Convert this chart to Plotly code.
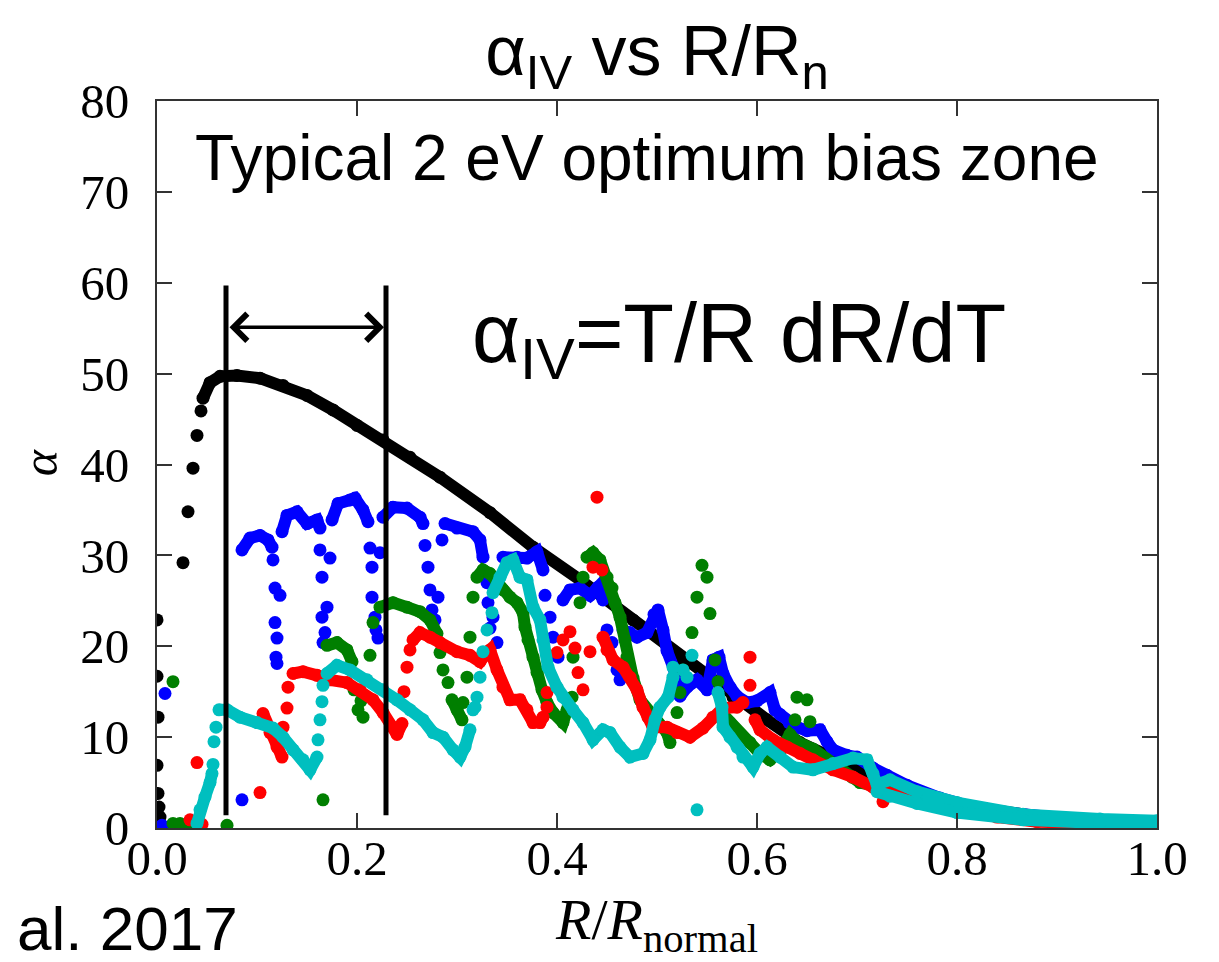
import plotly.graph_objects as go

# ---------------- data ----------------
# Each series: dense runs (drawn as continuous bead chains) and isolated dots.
black_runs = [
    [(0.046, 47.3), (0.053, 49.0), (0.063, 49.7), (0.080, 49.8), (0.103, 49.5), (0.126, 48.7),
     (0.150, 47.6), (0.176, 46.0), (0.200, 44.3), (0.226, 42.7), (0.253, 40.8), (0.283, 38.6),
     (0.333, 34.7), (0.376, 30.9), (0.423, 27.3), (0.476, 22.9), (0.526, 18.5), (0.576, 14.4),
     (0.610, 11.9), (0.643, 9.4), (0.673, 7.8), (0.700, 6.2), (0.720, 5.2), (0.750, 3.9),
     (0.800, 2.5), (0.850, 1.6), (0.900, 1.0), (0.950, 0.7), (1.000, 0.5)],
]
black_dots = [(0.000, 22.9), (0.000, 16.7), (0.001, 12.2), (0.000, 6.9), (0.001, 3.8), (0.002, 2.3),
              (0.003, 1.2), (0.003, 0.5), (0.026, 29.2), (0.031, 34.8), (0.036, 39.6), (0.040, 43.2),
              (0.044, 45.9)]

blue_runs = [
    [(0.085, 30.6), (0.093, 31.9), (0.103, 32.2), (0.111, 31.7), (0.115, 30.9)],
    [(0.125, 32.6), (0.130, 34.4), (0.140, 34.8), (0.150, 33.5), (0.160, 33.9), (0.163, 33.0)],
    [(0.175, 33.9), (0.181, 35.7), (0.193, 36.1), (0.198, 36.3), (0.206, 35.0), (0.211, 33.7)],
    [(0.226, 34.2), (0.236, 35.3), (0.250, 35.2), (0.263, 34.2), (0.266, 33.5)],
    [(0.288, 33.5), (0.300, 33.0), (0.316, 32.6), (0.323, 31.7), (0.326, 29.8)],
    [(0.346, 29.8), (0.360, 29.8), (0.370, 29.7), (0.380, 30.4), (0.386, 28.4)],
    [(0.406, 25.1), (0.413, 26.2), (0.423, 26.4), (0.433, 25.6), (0.441, 26.5), (0.446, 25.1)],
    [(0.466, 21.8), (0.473, 21.5), (0.480, 21.0), (0.490, 21.5), (0.497, 23.5), (0.501, 24.0),
     (0.506, 21.8), (0.510, 19.5), (0.517, 17.5), (0.523, 14.5), (0.530, 15.5), (0.540, 16.3),
     (0.550, 15.2), (0.556, 18.5), (0.562, 18.8), (0.566, 17.0), (0.573, 15.5), (0.580, 14.5),
     (0.590, 13.8), (0.600, 14.0), (0.613, 14.9), (0.618, 13.0), (0.623, 12.5), (0.632, 11.6),
     (0.640, 11.1), (0.650, 10.7), (0.663, 10.8), (0.670, 9.5), (0.676, 8.6), (0.690, 8.0),
     (0.700, 7.8), (0.716, 6.6), (0.730, 5.8), (0.750, 4.7), (0.783, 3.3), (0.816, 2.3),
     (0.850, 1.7), (0.883, 1.2), (0.920, 0.9), (0.960, 0.7), (1.000, 0.6)],
]
blue_dots = [(0.008, 14.8), (0.005, 0.3), (0.014, 0.2), (0.085, 3.1),
             (0.116, 29.5), (0.118, 26.4), (0.123, 25.6), (0.118, 22.6), (0.120, 20.9), (0.119, 18.8), (0.120, 18.1),
             (0.163, 30.6), (0.173, 29.7), (0.165, 27.6), (0.170, 24.3), (0.165, 23.2), (0.168, 21.5), (0.166, 20.4),
             (0.213, 30.8), (0.215, 28.7), (0.215, 25.4), (0.218, 23.2), (0.221, 20.9), (0.223, 30.3), (0.219, 21.8),
             (0.268, 31.1), (0.271, 28.7), (0.273, 26.2), (0.281, 25.4), (0.275, 24.0), (0.278, 22.9), (0.285, 31.7),
             (0.330, 27.0), (0.331, 24.8), (0.336, 23.2), (0.340, 20.4), (0.333, 22.0),
             (0.388, 25.6), (0.393, 23.2), (0.396, 21.0), (0.401, 18.8),
             (0.450, 21.8), (0.455, 20.4), (0.460, 17.4), (0.463, 16.3)]

green_runs = [
    [(0.170, 20.1), (0.180, 20.4), (0.190, 19.6), (0.195, 18.3)],
    [(0.223, 24.3), (0.236, 24.8), (0.250, 24.3), (0.263, 23.8), (0.273, 22.9), (0.280, 21.4)],
    [(0.295, 14.1), (0.300, 13.0), (0.305, 11.9)],
    [(0.320, 27.6), (0.326, 28.4), (0.333, 28.0), (0.340, 27.0), (0.346, 26.2), (0.353, 25.4),
     (0.360, 24.8), (0.366, 23.7), (0.368, 22.1), (0.371, 20.7), (0.376, 18.8), (0.380, 17.1),
     (0.385, 15.2), (0.390, 13.8), (0.396, 12.7), (0.406, 11.6), (0.410, 13.0)],
    [(0.430, 29.8), (0.436, 30.3), (0.443, 29.5), (0.450, 27.6), (0.455, 26.4), (0.458, 24.8),
     (0.463, 23.2), (0.468, 20.7), (0.470, 18.8), (0.476, 16.5), (0.483, 14.1), (0.493, 12.7),
     (0.500, 11.6), (0.510, 10.5), (0.513, 9.4)],
    [(0.566, 12.5), (0.573, 11.6), (0.583, 10.3), (0.593, 9.4), (0.603, 8.2), (0.613, 7.5),
     (0.623, 8.5), (0.633, 10.3), (0.640, 9.5), (0.656, 8.7), (0.670, 7.5), (0.683, 6.6),
     (0.695, 5.6), (0.703, 5.0), (0.720, 4.6), (0.750, 3.5), (0.800, 2.2), (0.850, 1.4),
     (0.900, 0.9), (0.950, 0.6), (1.000, 0.4)],
]
green_dots = [(0.016, 16.1), (0.016, 0.5), (0.023, 0.5), (0.030, 0.3), (0.070, 0.3), (0.166, 3.1),
              (0.197, 15.2), (0.201, 13.0), (0.206, 12.2), (0.204, 14.0), (0.213, 19.0), (0.216, 22.6),
              (0.283, 19.3), (0.286, 17.4), (0.291, 16.0), (0.306, 13.8), (0.310, 16.6), (0.313, 21.0), (0.316, 25.4),
              (0.415, 14.4), (0.416, 18.8), (0.423, 24.8), (0.426, 27.6),
              (0.520, 12.7), (0.523, 14.9), (0.526, 17.4), (0.535, 21.5), (0.540, 25.4), (0.545, 28.9),
              (0.550, 27.6), (0.553, 23.6), (0.558, 18.5), (0.561, 16.1),
              (0.640, 14.4), (0.650, 14.1), (0.638, 11.9), (0.653, 11.7)]

red_runs = [
    [(0.106, 12.6), (0.113, 10.5), (0.120, 8.9), (0.125, 7.8)],
    [(0.136, 17.0), (0.146, 17.2), (0.160, 16.8), (0.173, 16.3), (0.190, 16.0), (0.203, 15.2),
     (0.216, 14.1), (0.226, 12.7), (0.236, 11.1), (0.240, 10.3), (0.245, 11.5)],
    [(0.256, 20.7), (0.263, 21.5), (0.273, 21.0), (0.283, 20.4), (0.300, 19.4), (0.313, 19.0),
     (0.323, 18.3), (0.330, 19.3), (0.333, 19.6), (0.340, 17.4), (0.346, 15.5), (0.353, 14.1),
     (0.363, 14.1), (0.370, 13.0), (0.376, 11.6), (0.383, 11.6), (0.386, 12.2)],
    [(0.446, 21.0), (0.450, 19.6), (0.456, 18.5), (0.466, 17.7), (0.473, 16.6), (0.480, 15.2),
     (0.486, 13.3), (0.491, 12.2), (0.496, 11.1), (0.510, 11.1), (0.520, 10.5), (0.533, 10.0),
     (0.546, 11.0), (0.556, 12.2), (0.566, 13.2), (0.580, 13.3), (0.586, 13.8)],
    [(0.598, 11.9), (0.603, 10.8), (0.616, 9.7), (0.630, 8.9), (0.643, 8.2), (0.656, 7.5),
     (0.676, 6.4), (0.696, 5.6), (0.716, 4.5), (0.740, 3.6), (0.770, 2.8), (0.800, 2.0),
     (0.840, 1.2), (0.880, 0.7), (0.920, 0.5), (0.960, 0.4), (1.000, 0.3)],
]
red_dots = [(0.033, 0.9), (0.040, 7.2), (0.045, 0.4), (0.103, 3.9),
            (0.126, 11.1), (0.130, 13.2), (0.131, 15.5),
            (0.247, 15.0), (0.250, 17.7), (0.253, 19.6),
            (0.390, 14.9), (0.390, 13.3), (0.400, 19.3), (0.406, 20.7), (0.413, 21.6), (0.418, 19.8),
            (0.421, 17.1), (0.426, 15.2), (0.433, 19.4), (0.436, 28.7), (0.445, 28.4), (0.440, 36.4),
            (0.593, 18.8), (0.593, 15.7), (0.726, 2.9)]

cyan_runs = [
    [(0.040, 0.5), (0.043, 2.0), (0.048, 3.4), (0.053, 5.0), (0.055, 6.0)],
    [(0.062, 13.0), (0.070, 13.0), (0.083, 12.2), (0.100, 11.6), (0.116, 11.0), (0.126, 10.0),
     (0.136, 8.6), (0.146, 7.5), (0.153, 6.4), (0.160, 7.8)],
    [(0.170, 17.0), (0.180, 17.9), (0.193, 17.4), (0.210, 16.3), (0.226, 15.2), (0.240, 14.1),
     (0.253, 13.0), (0.266, 11.9), (0.276, 10.5), (0.286, 10.0), (0.296, 8.6), (0.303, 7.8),
     (0.308, 8.9), (0.313, 10.8)],
    [(0.336, 25.9), (0.343, 27.6), (0.350, 29.2), (0.356, 29.5), (0.363, 27.6), (0.370, 27.3),
     (0.376, 24.3), (0.383, 22.9), (0.386, 20.7), (0.391, 17.7), (0.400, 15.5), (0.406, 14.4),
     (0.416, 13.0), (0.426, 11.6), (0.436, 9.7), (0.446, 10.8), (0.453, 10.5), (0.463, 8.9),
     (0.473, 7.8), (0.486, 8.2), (0.493, 9.7), (0.498, 11.9), (0.503, 13.3), (0.511, 14.4),
     (0.516, 16.6)],
    [(0.561, 14.9), (0.565, 13.3), (0.566, 11.1), (0.573, 10.0), (0.580, 8.9), (0.586, 7.8),
     (0.596, 6.7), (0.603, 8.2), (0.610, 8.9), (0.623, 7.8), (0.636, 6.7), (0.656, 6.4),
     (0.676, 7.1), (0.696, 7.7), (0.710, 7.5), (0.716, 6.0), (0.720, 4.8), (0.733, 5.3),
     (0.760, 4.0), (0.800, 2.8), (0.866, 1.5), (0.943, 1.0), (1.000, 0.8)],
    [(0.720, 4.0), (0.733, 3.5), (0.760, 2.7), (0.800, 1.7), (0.866, 0.9), (0.943, 0.55), (1.000, 0.5)],
]
cyan_dots = [(0.056, 7.0), (0.057, 9.5), (0.059, 11.1),
             (0.161, 9.7), (0.163, 11.9), (0.165, 13.9), (0.166, 15.7),
             (0.316, 13.0), (0.318, 13.3), (0.320, 14.4), (0.323, 16.6), (0.326, 19.4), (0.330, 21.8), (0.335, 23.7),
             (0.516, 17.7), (0.526, 17.4), (0.535, 19.0), (0.530, 16.6), (0.540, 2.0)]

zone_bounds = [0.069, 0.229]      # vertical marker lines (R/Rn)
zone_y = [1.4, 59.7]
arrow_y = 55.1

x_ticks = [0.0, 0.2, 0.4, 0.6, 0.8, 1.0]
x_ticklabels = ["0.0", "0.2", "0.4", "0.6", "0.8", "1.0"]
y_ticks = [0, 10, 20, 30, 40, 50, 60, 70, 80]

series = [
    ("black", black_runs, black_dots, "#000000"),
    ("blue", blue_runs, blue_dots, "#0000ff"),
    ("green", green_runs, green_dots, "#007f00"),
    ("red", red_runs, red_dots, "#ff0000"),
    ("cyan", cyan_runs, cyan_dots, "#00bfbf"),
]


def flatten(runs, dots):
    xs, ys = [], []
    for run in runs + [[d] for d in dots]:
        for x, y in run:
            xs.append(x)
            ys.append(y)
        xs.append(None)
        ys.append(None)
    return xs, ys


fig = go.Figure()
for name, runs, dots, color in series:
    xs, ys = flatten(runs, dots)
    fig.add_trace(go.Scatter(
        x=xs, y=ys, mode="lines+markers", name=name, connectgaps=False,
        line=dict(color=color, width=12),
        marker=dict(color=color, size=13, line=dict(width=0)),
        showlegend=False, hoverinfo="skip",
    ))

for xb in zone_bounds:
    fig.add_shape(type="line", xref="x", yref="y", x0=xb, x1=xb, y0=zone_y[0], y1=zone_y[1],
                  line=dict(color="black", width=5))

fig.add_annotation(x=zone_bounds[1] - 0.002, y=arrow_y, ax=zone_bounds[0] + 0.002, ay=arrow_y,
                   xref="x", yref="y", axref="x", ayref="y", text="", showarrow=True,
                   arrowside="end+start", arrowhead=4, startarrowhead=4,
                   arrowsize=1.5, startarrowsize=1.5, arrowwidth=3.5, arrowcolor="black")

sans = "Liberation Sans, Arial, sans-serif"
serif = "Liberation Serif, Times New Roman, serif"

fig.add_annotation(x=0.49, y=73.7, xref="x", yref="y", text="Typical 2 eV optimum bias zone",
                   showarrow=False, font=dict(family=sans, size=64, color="black"),
                   xanchor="center", yanchor="middle")
fig.add_annotation(x=0.313, y=53.8, xref="x", yref="y", text="α<sub>IV</sub>=T/R dR/dT",
                   showarrow=False, font=dict(family=sans, size=83, color="black"),
                   xanchor="left", yanchor="middle")
fig.add_annotation(x=0.083, y=-0.138, xref="paper", yref="paper", text="al. 2017",
                   showarrow=False, font=dict(family=sans, size=62, color="black"),
                   xanchor="right", yanchor="middle")
fig.add_annotation(x=-0.117, y=0.503, xref="paper", yref="paper", text="<i>α</i>",
                   showarrow=False, font=dict(family=serif, size=50, color="black"),
                   textangle=-90, xanchor="center", yanchor="middle")

axis_common = dict(
    showline=True, linecolor="#333333", linewidth=2, mirror="ticks",
    ticks="inside", ticklen=15, tickwidth=1.5, tickcolor="#333333",
    showgrid=False, zeroline=False,
    tickfont=dict(family=serif, size=49, color="black"),
)

fig.update_layout(
    width=1219, height=962,
    margin=dict(l=157, r=62, t=101, b=134, pad=0),
    paper_bgcolor="white", plot_bgcolor="white",
    title=dict(text="α<sub>IV</sub> vs R/R<sub>n</sub>", x=0.539, y=0.948, xanchor="center",
               yanchor="middle", font=dict(family=sans, size=70, color="black")),
    xaxis=dict(range=[0, 1], tickvals=x_ticks, ticktext=x_ticklabels, ticklabelstandoff=-14,
               title=dict(text="<i>R</i>/<i>R</i><sub>normal</sub>", standoff=14,
                          font=dict(family=serif, size=58, color="black")),
               **axis_common),
    yaxis=dict(range=[0, 80], tickvals=y_ticks, ticklabelstandoff=16, **axis_common),
)

fig.write_html("out.html")
